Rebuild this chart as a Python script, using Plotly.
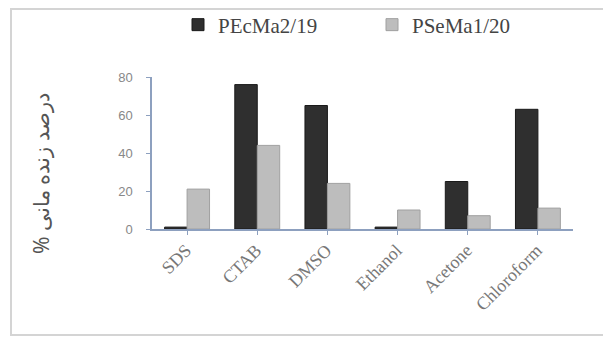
import plotly.graph_objects as go

categories = ["SDS", "CTAB", "DMSO", "Ethanol", "Acetone", "Chloroform"]
pecma_values = [1, 76, 65, 1, 25, 63]
psema_values = [21, 44, 24, 10, 7, 11]
series_names = ["PEcMa2/19", "PSeMa1/20"]
y_ticks = [0, 20, 40, 60, 80]
y_title = "% درصد زنده مانی"

W, H = 611, 338
L, R, T, B = 144, 46, 69, 117
pw, ph = W - L - R, H - T - B
base = H - B  # figure y of the plot bottom


def px(fx):
    return (fx - L) / pw


def py(fy):
    return (base - fy) / ph


fig = go.Figure()
fig.add_trace(go.Bar(x=categories, y=pecma_values, name=series_names[0],
                     marker=dict(color="#2f2f2f", line=dict(color="#1a1a1a", width=1))))
fig.add_trace(go.Bar(x=categories, y=psema_values, name=series_names[1],
                     marker=dict(color="#bdbdbd", line=dict(color="#a0a0a0", width=1))))

fig.update_layout(
    width=W, height=H,
    margin=dict(l=L, r=R, t=T, b=B, autoexpand=False),
    paper_bgcolor="white", plot_bgcolor="white",
    barmode="group", bargap=0.36, bargroupgap=0.0,
    showlegend=True,
    legend=dict(orientation="h", x=px(170), xanchor="left",
                y=py(17), yanchor="middle",
                font=dict(family="Liberation Serif", size=21, color="#444"),
                itemwidth=30, entrywidth=149, bgcolor="rgba(0,0,0,0)"),
    xaxis=dict(showline=True, linecolor="#8da0bf", linewidth=1.5,
               ticks="outside", ticklen=4, tickcolor="#8da0bf",
               tickangle=-45, ticklabelstandoff=-2, ticklabelshift=-1,
               tickfont=dict(family="Liberation Serif", size=18, color="#777"),
               showgrid=False),
    yaxis=dict(range=[0, 80], tickvals=y_ticks, showline=True,
               linecolor="#8da0bf", linewidth=1.5,
               ticks="outside", ticklen=4, tickcolor="#8da0bf",
               ticklabelstandoff=11,
               tickfont=dict(family="Liberation Sans", size=13, color="#888"),
               showgrid=False, zeroline=False),
)

fig.add_annotation(text=y_title, xref="paper", yref="paper",
                   x=px(33), y=py(166), textangle=-90,
                   showarrow=False, xanchor="center", yanchor="middle",
                   font=dict(family="Noto Sans", size=21, color="#555"))

fig.add_shape(type="rect", xref="paper", yref="paper",
              x0=px(3), x1=px(597), y0=py(327), y1=py(1),
              line=dict(color="#d4d4d4", width=2), fillcolor="rgba(0,0,0,0)")

fig.write_html("out.html")
